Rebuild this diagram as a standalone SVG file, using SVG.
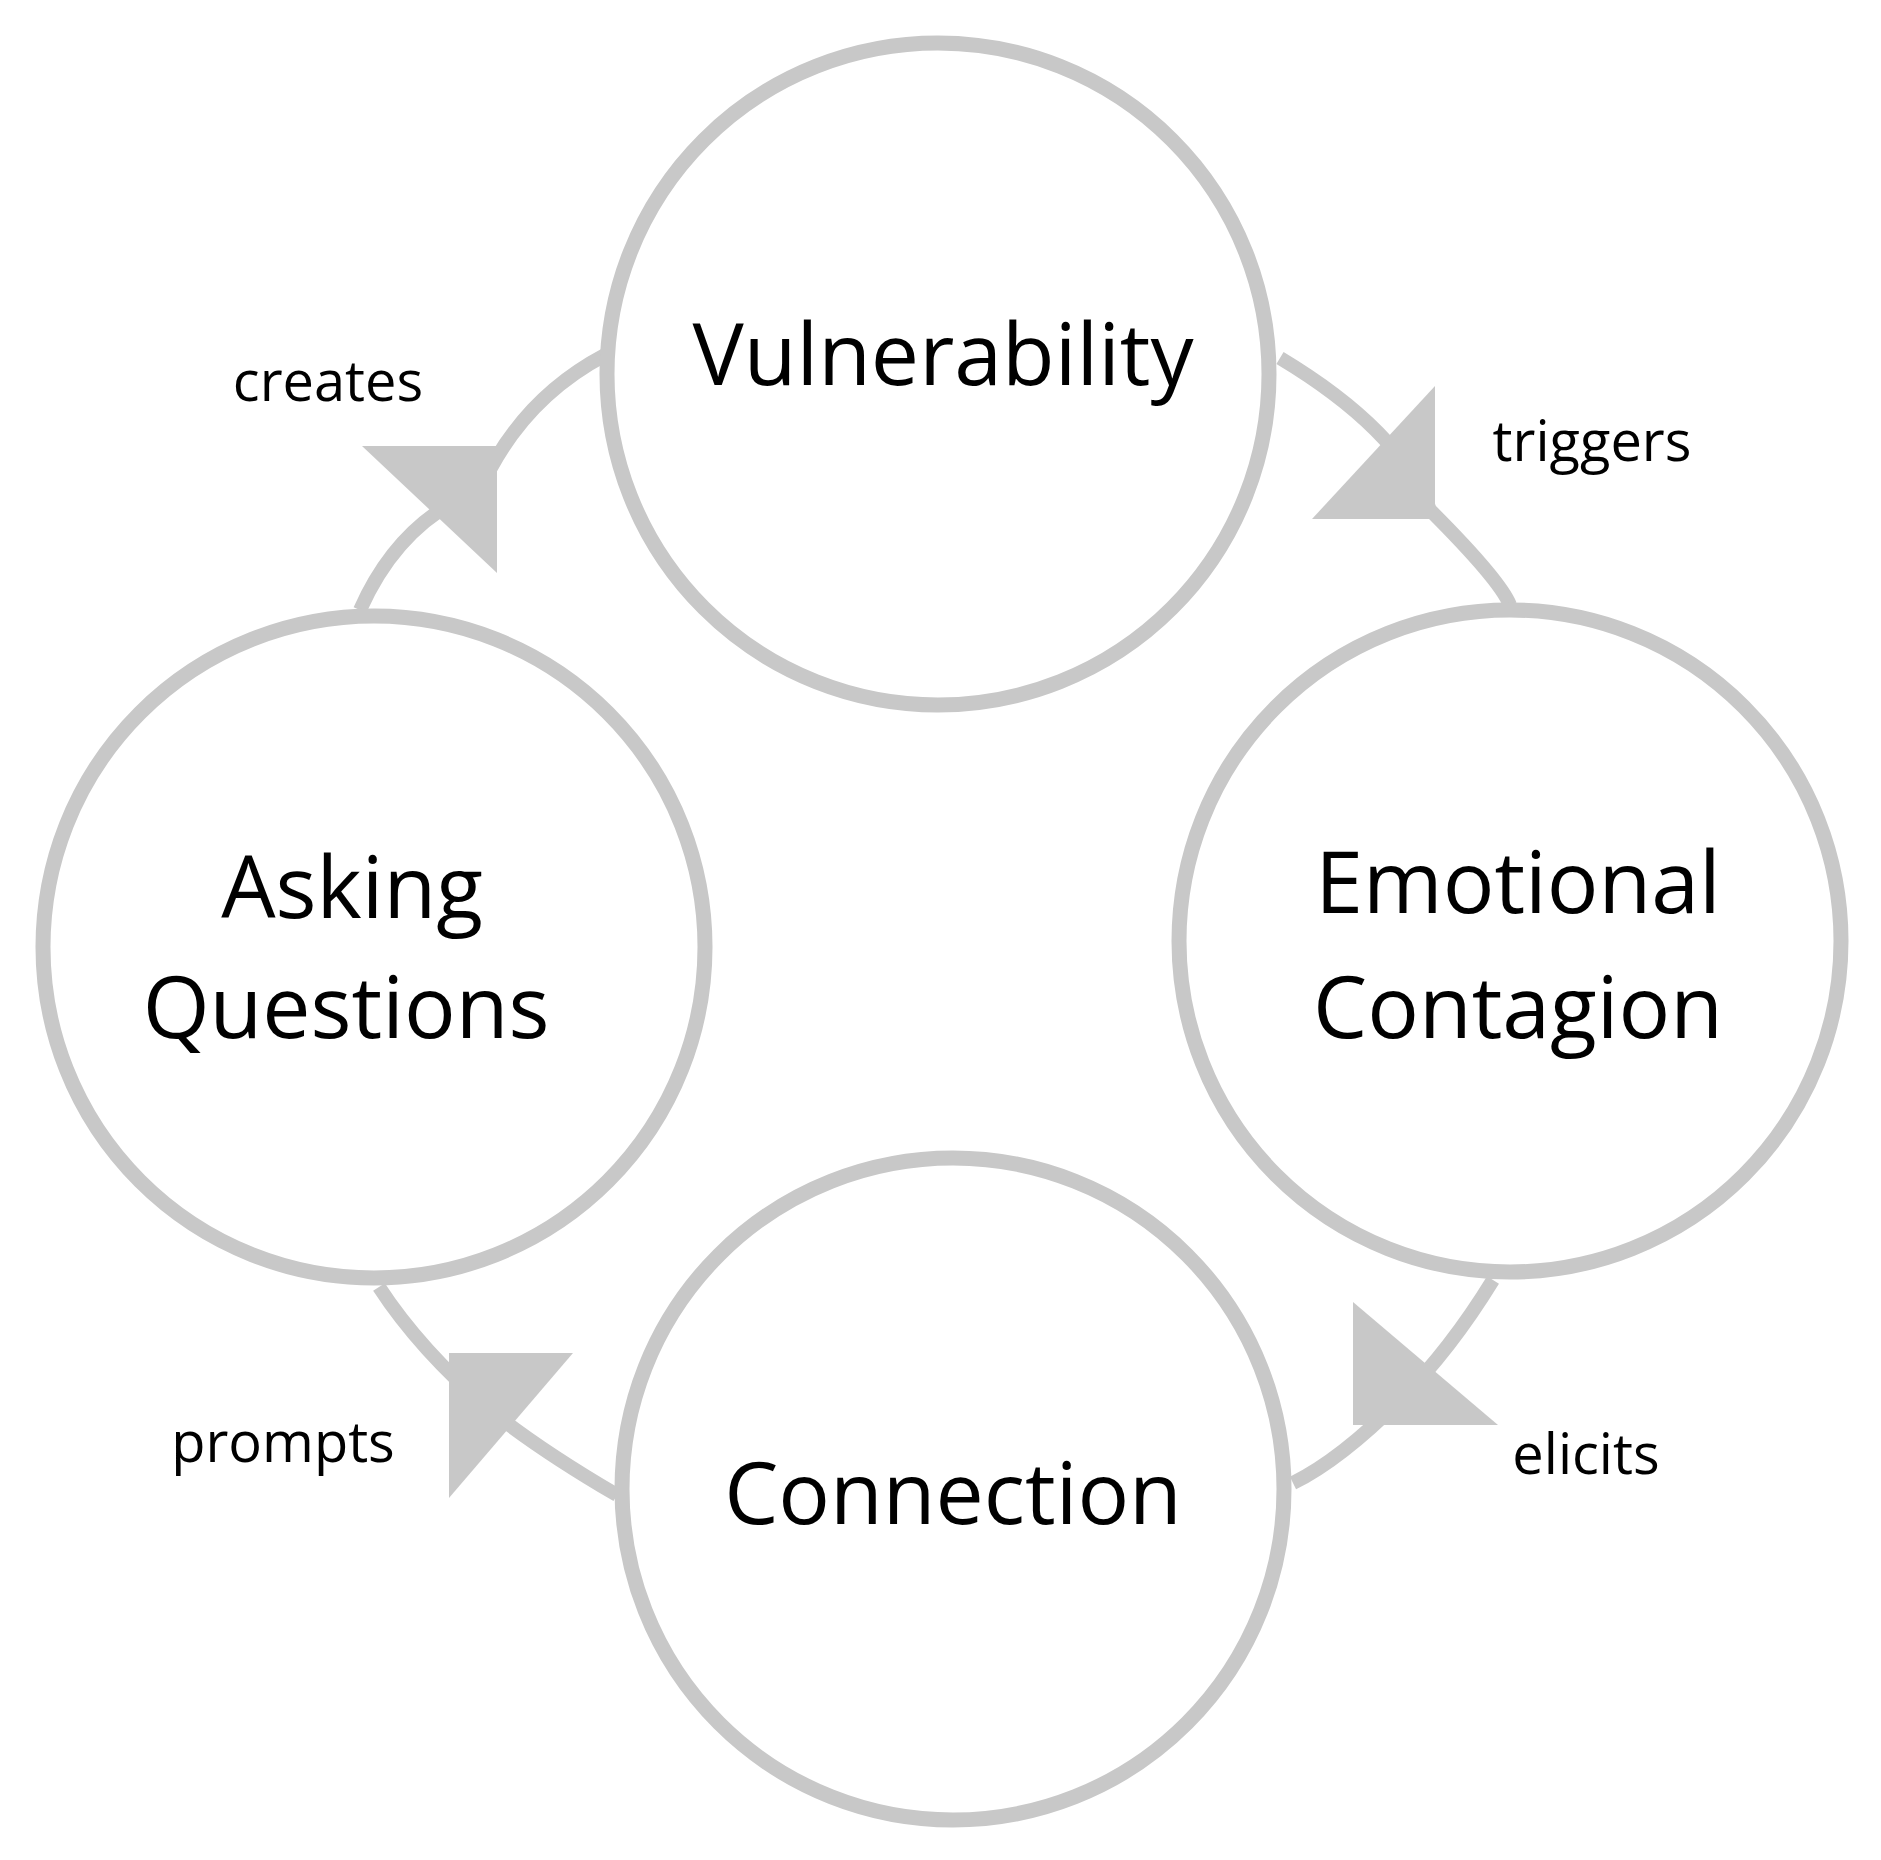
<svg xmlns="http://www.w3.org/2000/svg" width="1881" height="1860" viewBox="0 0 1881 1860">
<style>
.node{fill:#fff;stroke:#c8c8c8;stroke-width:15}
.conn{fill:none;stroke:#c8c8c8;stroke-width:14}
.head{fill:#c8c8c8}
.t{font-family:"Open Sans","Liberation Sans",sans-serif;fill:#000;text-anchor:middle;dominant-baseline:middle}
.n{font-size:86px}
.l{font-size:56px}
</style>
<rect width="1881" height="1860" fill="#fff"/>
<g id="connectors">
<path class="conn" d="M360 610 Q400 520 480 490 Q520 400 605 355"/>
<polygon class="head" points="362,446 497,446 497,573"/>
<path class="conn" d="M1280 358 Q1400 430 1430 510 Q1500 580 1510 605"/>
<polygon class="head" points="1435,386 1435,519 1312,519"/>
<path class="conn" d="M1493 1280 Q1450 1350 1400 1400 Q1340 1460 1293 1483"/>
<polygon class="head" points="1353,1302 1353,1425 1498,1425"/>
<path class="conn" d="M617 1495 Q540 1450 490 1410 Q420 1350 379 1287"/>
<polygon class="head" points="573,1353 449,1353 449,1498"/>
<text class="t l" x="328" y="386">creates</text>
<text class="t l" x="1592" y="446">triggers</text>
<text class="t l" x="1586" y="1459">elicits</text>
<text class="t l" x="283" y="1447">prompts</text>
</g>
<g id="vulnerability"><circle class="node" cx="938" cy="374" r="331"/><text class="t n" x="943" y="362">Vulnerability</text></g>
<g id="emotional"><circle class="node" cx="1510" cy="941" r="331"/><text class="t n" x="1518" y="890">Emotional</text><text class="t n" x="1518" y="1015">Contagion</text></g>
<g id="connection"><circle class="node" cx="953" cy="1489" r="331"/><text class="t n" x="953" y="1501">Connection</text></g>
<g id="asking"><circle class="node" cx="374" cy="947" r="331"/><text class="t n" x="352" y="895">Asking</text><text class="t n" x="346" y="1015">Questions</text></g>
</svg>
